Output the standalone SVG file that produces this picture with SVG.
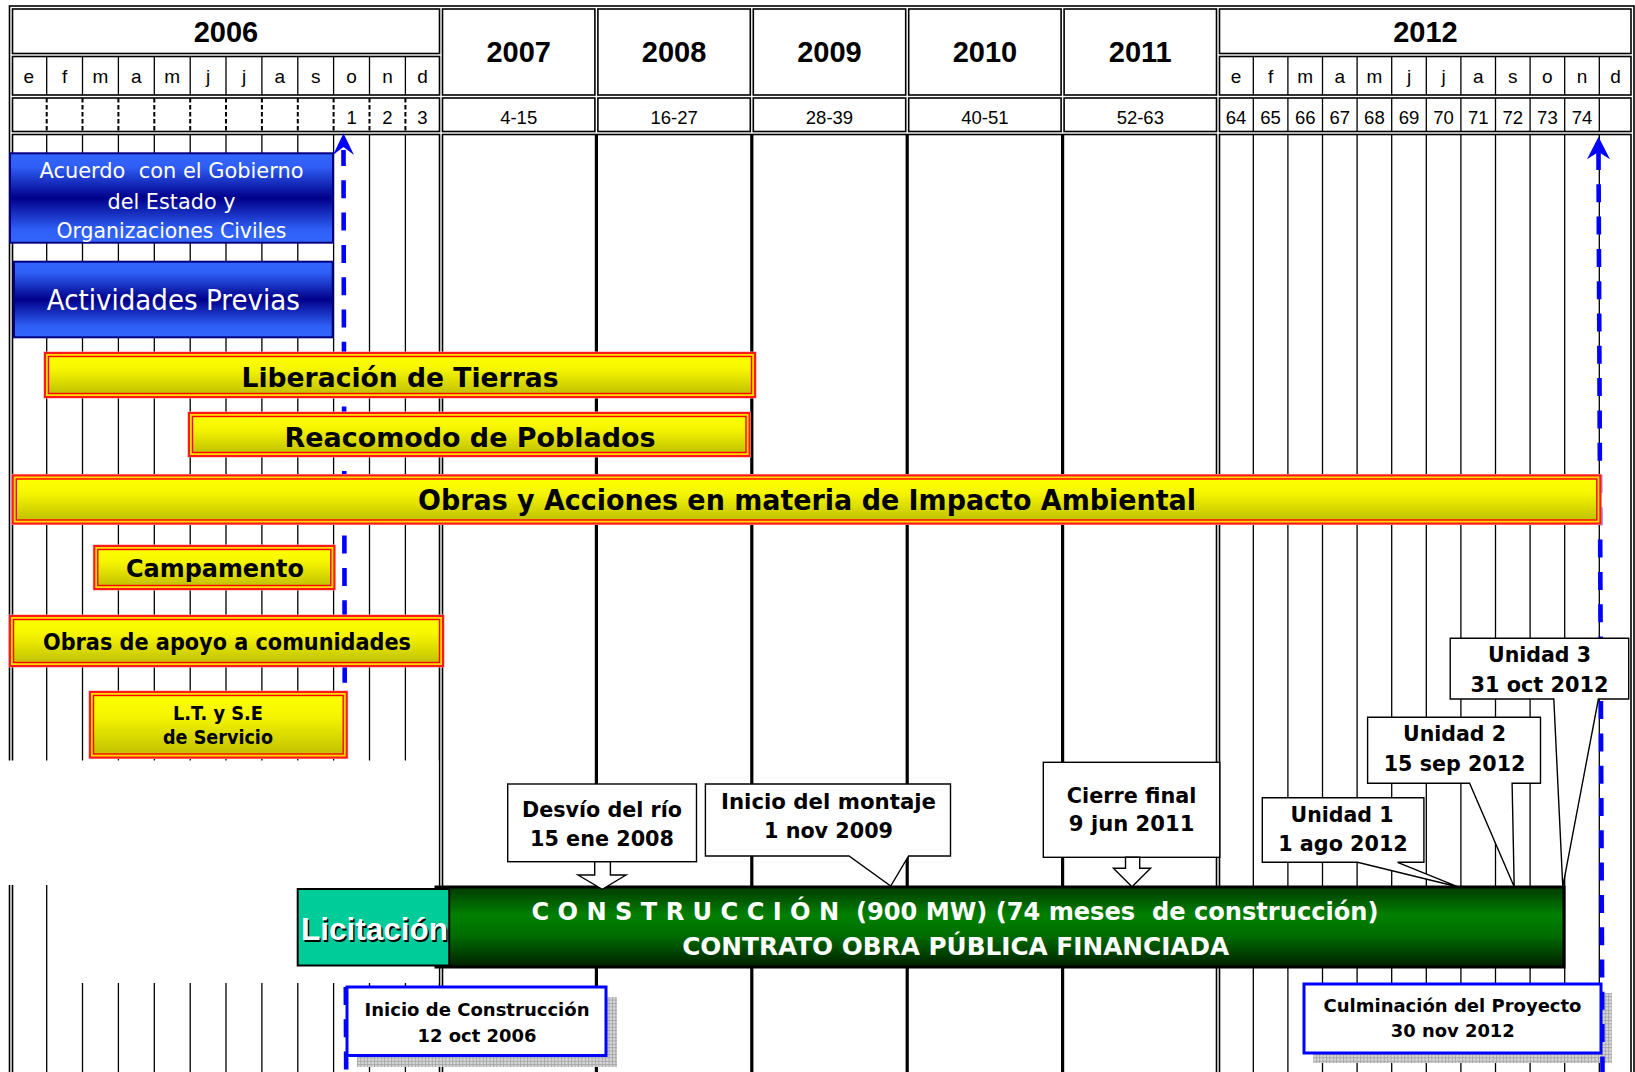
<svg xmlns="http://www.w3.org/2000/svg" width="1635" height="1072" viewBox="0 0 1635 1072">
<defs>
<linearGradient id="gY" x1="0" y1="0" x2="0" y2="1">
<stop offset="0" stop-color="#ffff00"/><stop offset="0.35" stop-color="#f5f500"/><stop offset="1" stop-color="#c2c200"/>
</linearGradient>
<linearGradient id="gB" x1="0" y1="0" x2="0" y2="1">
<stop offset="0" stop-color="#3366ff"/><stop offset="0.15" stop-color="#2f5ef5"/><stop offset="0.5" stop-color="#00008a"/><stop offset="0.85" stop-color="#2f5ef5"/><stop offset="1" stop-color="#3366ff"/>
</linearGradient>
<linearGradient id="gG" x1="0" y1="0" x2="0" y2="1">
<stop offset="0" stop-color="#003a00"/><stop offset="0.35" stop-color="#008000"/><stop offset="0.6" stop-color="#006e00"/><stop offset="1" stop-color="#002000"/>
</linearGradient>
<pattern id="pS" width="3.4" height="3.4" patternUnits="userSpaceOnUse">
<rect width="3.4" height="3.4" fill="#d6d6d6"/><path d="M0,0.5H3.4M0.5,0V3.4" stroke="#a0a0a0" stroke-width="0.8"/>
</pattern>
</defs>
<style>
.cell{fill:none;stroke:#000;stroke-width:1.6}
.mline{fill:none;stroke:#000;stroke-width:1.3}
.dline{fill:none;stroke:#000;stroke-width:2;stroke-dasharray:4.5 2.5}
.yline{fill:none;stroke:#000;stroke-width:3.2}
.h{font-family:"Liberation Sans",Arial,sans-serif;fill:#000;text-anchor:middle}
.yr{font-size:29px;font-weight:bold}
.mo{font-size:19px}
.nb{font-size:18.5px}
.t{font-family:"DejaVu Sans",Verdana,sans-serif;text-anchor:middle;font-weight:bold;fill:#000}
.w{fill:#fff}
.reg{font-weight:normal}
.pre{white-space:pre}
.halo{fill:none;stroke:#ff9c9c;stroke-width:1}
.ybo{fill:#ffdc00;stroke:#ff1a1a;stroke-width:2}
.ybi{fill:url(#gY);stroke:#ff0000;stroke-width:1.4}
.bb{fill:url(#gB);stroke:#000080;stroke-width:2}
.call{fill:#fff;stroke:#000;stroke-width:1.4}
.blue{fill:#fff;stroke:#0000ff;stroke-width:3}
.shadow{fill:url(#pS)}
.conn{fill:none;stroke:#0000ff;stroke-width:4.6;stroke-dasharray:18 14.3}
.head{fill:#0000ff}
</style>
<rect width="1635" height="1072" fill="#fff"/>

<g id="grid">
<rect class="cell" x="9.5" y="6" width="1624.5" height="1080"/>
<rect class="cell" x="12.5" y="9" width="427" height="44.5"/>
<rect class="cell" x="12.5" y="56.5" width="427" height="38.5"/>
<rect class="cell" x="12.5" y="98" width="427" height="33.5"/>
<rect class="cell" x="442.5" y="9" width="152.4" height="86"/>
<rect class="cell" x="442.5" y="98" width="152.4" height="33.5"/>
<rect class="cell" x="597.9" y="9" width="152.4" height="86"/>
<rect class="cell" x="597.9" y="98" width="152.4" height="33.5"/>
<rect class="cell" x="753.3" y="9" width="152.4" height="86"/>
<rect class="cell" x="753.3" y="98" width="152.4" height="33.5"/>
<rect class="cell" x="908.7" y="9" width="152.4" height="86"/>
<rect class="cell" x="908.7" y="98" width="152.4" height="33.5"/>
<rect class="cell" x="1064.1" y="9" width="152.4" height="86"/>
<rect class="cell" x="1064.1" y="98" width="152.4" height="33.5"/>
<rect class="cell" x="1219.5" y="9" width="411.5" height="44.5"/>
<rect class="cell" x="1219.5" y="56.5" width="411.5" height="38.5"/>
<rect class="cell" x="1219.5" y="98" width="411.5" height="33.5"/>
<rect class="cell" x="12.5" y="134.5" width="427" height="960"/>
<rect class="cell" x="442.5" y="134.5" width="774" height="960"/>
<rect class="cell" x="1219.5" y="134.5" width="411.5" height="960"/>
<path class="yline" d="M596.4,134.5V1072M751.8,134.5V1072M907.2,134.5V1072M1062.6,134.5V1072"/>
<path class="mline" d="M46.7,56.5V95M82.5,56.5V95M118.4,56.5V95M154.3,56.5V95M190.2,56.5V95M226,56.5V95M261.9,56.5V95M297.8,56.5V95M333.6,56.5V95M369.5,56.5V95M405.4,56.5V95M1253.3,56.5V95M1287.9,56.5V95M1322.5,56.5V95M1357.1,56.5V95M1391.7,56.5V95M1426.3,56.5V95M1460.9,56.5V95M1495.5,56.5V95M1530.1,56.5V95M1564.7,56.5V95M1599.3,56.5V95"/>
<path class="dline" d="M46.7,98V131.5M82.5,98V131.5M118.4,98V131.5M154.3,98V131.5M190.2,98V131.5M226,98V131.5M261.9,98V131.5M297.8,98V131.5M333.6,98V131.5M369.5,98V131.5M405.4,98V131.5"/>
<path class="mline" d="M1253.3,98V131.5M1287.9,98V131.5M1322.5,98V131.5M1357.1,98V131.5M1391.7,98V131.5M1426.3,98V131.5M1460.9,98V131.5M1495.5,98V131.5M1530.1,98V131.5M1564.7,98V131.5M1599.3,98V131.5"/>
<path class="mline" d="M46.7,134.5V1072M82.5,134.5V1072M118.4,134.5V1072M154.3,134.5V1072M190.2,134.5V1072M226,134.5V1072M261.9,134.5V1072M297.8,134.5V1072M333.6,134.5V1072M369.5,134.5V1072M405.4,134.5V1072M1253.3,134.5V1072M1287.9,134.5V1072M1322.5,134.5V1072M1357.1,134.5V1072M1391.7,134.5V1072M1426.3,134.5V1072M1460.9,134.5V1072M1495.5,134.5V1072M1530.1,134.5V1072M1564.7,134.5V1072M1599.3,134.5V1072"/>
<rect x="7" y="760.5" width="431.5" height="124.5" fill="#fff"/>
<rect x="48" y="884" width="390.5" height="99" fill="#fff"/>
</g>

<g id="header-text">
<text class="h yr" x="226" y="42">2006</text>
<text class="h yr" x="518.7" y="62">2007</text>
<text class="h yr" x="674.1" y="62">2008</text>
<text class="h yr" x="829.5" y="62">2009</text>
<text class="h yr" x="984.9" y="62">2010</text>
<text class="h yr" x="1140.3" y="62">2011</text>
<text class="h yr" x="1425.5" y="42">2012</text>
<g class="h mo">
<text x="28.7" y="83">e</text><text x="64.6" y="83">f</text><text x="100.5" y="83">m</text><text x="136.4" y="83">a</text><text x="172.2" y="83">m</text><text x="208.1" y="83">j</text><text x="244" y="83">j</text><text x="279.9" y="83">a</text><text x="315.7" y="83">s</text><text x="351.6" y="83">o</text><text x="387.5" y="83">n</text><text x="422.5" y="83">d</text>
<text x="1236" y="83">e</text><text x="1270.6" y="83">f</text><text x="1305.2" y="83">m</text><text x="1339.8" y="83">a</text><text x="1374.4" y="83">m</text><text x="1409" y="83">j</text><text x="1443.6" y="83">j</text><text x="1478.2" y="83">a</text><text x="1512.8" y="83">s</text><text x="1547.4" y="83">o</text><text x="1582" y="83">n</text><text x="1615.5" y="83">d</text>
</g>
<g class="h nb">
<text x="351.6" y="123.5">1</text><text x="387.5" y="123.5">2</text><text x="422.5" y="123.5">3</text>
<text x="518.7" y="123.5">4-15</text><text x="674.1" y="123.5">16-27</text><text x="829.5" y="123.5">28-39</text><text x="984.9" y="123.5">40-51</text><text x="1140.3" y="123.5">52-63</text>
<text x="1236" y="123.5">64</text><text x="1270.6" y="123.5">65</text><text x="1305.2" y="123.5">66</text><text x="1339.8" y="123.5">67</text><text x="1374.4" y="123.5">68</text><text x="1409" y="123.5">69</text><text x="1443.6" y="123.5">70</text><text x="1478.2" y="123.5">71</text><text x="1512.8" y="123.5">72</text><text x="1547.4" y="123.5">73</text><text x="1582" y="123.5">74</text>
</g>
</g>

<g id="shadows">
<rect class="shadow" x="357" y="997" width="260" height="70"/>
<rect class="shadow" x="1313" y="993" width="299" height="70"/>
</g>

<g id="connectors">
<path class="conn" d="M343.5,150L344.9,760" stroke-dashoffset="2"/>
<polygon class="head" points="343.5,133.3 354,155 343.5,147 333,155"/>
<path class="conn" d="M345.8,987L346.2,1072"/>
<path class="conn" d="M1598.5,152L1602.5,1072"/>
<polygon class="head" points="1598.5,136.7 1610,159.3 1598.5,152 1587,159.3"/>
</g>

<g id="acuerdo">
<rect class="bb" x="10" y="153.3" width="323" height="89.4" stroke-width="1.5"/>
<text class="t w reg pre" font-size="21" x="171.5" y="178.3" textLength="264" lengthAdjust="spacingAndGlyphs">Acuerdo  con el Gobierno</text>
<text class="t w reg" font-size="21" x="171.5" y="209" textLength="128" lengthAdjust="spacingAndGlyphs">del Estado y</text>
<text class="t w reg" font-size="21" x="171.5" y="238.3" textLength="230" lengthAdjust="spacingAndGlyphs">Organizaciones Civiles</text>
</g>
<g id="actividades">
<rect class="bb" x="14" y="261.7" width="318.7" height="75.6"/>
<text class="t w reg" font-size="28" x="173.3" y="310" textLength="253" lengthAdjust="spacingAndGlyphs">Actividades Previas</text>
</g>

<g id="liberacion">
<rect class="halo" x="44" y="352" width="712" height="46"/>
<rect class="ybo" x="45" y="353" width="710" height="44"/>
<rect class="ybi" x="48.5" y="356.5" width="703" height="37"/>
<text class="t" font-size="27" x="400" y="386.7" textLength="317" lengthAdjust="spacingAndGlyphs">Liberación de Tierras</text>
</g>
<g id="reacomodo">
<rect class="halo" x="188" y="412" width="562.5" height="45"/>
<rect class="ybo" x="189" y="413" width="560.5" height="43"/>
<rect class="ybi" x="192.5" y="416.5" width="553.5" height="36"/>
<text class="t" font-size="27" x="470" y="446.7" textLength="371" lengthAdjust="spacingAndGlyphs">Reacomodo de Poblados</text>
</g>
<g id="impacto">
<rect class="halo" x="11.8" y="474.5" width="1589.5" height="50"/>
<rect class="ybo" x="12.8" y="475.5" width="1587.5" height="48"/>
<rect class="ybi" x="16.3" y="479" width="1580.5" height="41"/>
<text class="t" font-size="28" x="807" y="510" textLength="778" lengthAdjust="spacingAndGlyphs">Obras y Acciones en materia de Impacto Ambiental</text>
</g>
<g id="campamento">
<rect class="halo" x="93.3" y="545" width="242" height="45"/>
<rect class="ybo" x="94.3" y="546" width="240" height="43"/>
<rect class="ybi" x="97.8" y="549.5" width="233" height="36"/>
<text class="t" font-size="25" x="215" y="577.3" textLength="178" lengthAdjust="spacingAndGlyphs">Campamento</text>
</g>
<g id="apoyo">
<rect class="halo" x="9" y="615" width="435" height="52"/>
<rect class="ybo" x="10" y="616" width="433" height="50"/>
<rect class="ybi" x="13.5" y="619.5" width="426" height="43"/>
<text class="t" font-size="23" x="227" y="650" textLength="368" lengthAdjust="spacingAndGlyphs">Obras de apoyo a comunidades</text>
</g>
<g id="lt-se">
<rect class="halo" x="89" y="691" width="258.7" height="67.5"/>
<rect class="ybo" x="90" y="692" width="256.7" height="65.5"/>
<rect class="ybi" x="93.5" y="695.5" width="249.7" height="58.5"/>
<text class="t" font-size="19" x="218" y="720" textLength="90" lengthAdjust="spacingAndGlyphs">L.T. y S.E</text>
<text class="t" font-size="19" x="218" y="744" textLength="110" lengthAdjust="spacingAndGlyphs">de Servicio</text>
</g>

<g id="construccion">
<rect x="436" y="887" width="1128" height="80" fill="url(#gG)" stroke="#000" stroke-width="3"/>
<text class="t w pre" font-size="24" x="955" y="919.5" textLength="847" lengthAdjust="spacingAndGlyphs">C O N S T R U C C I Ó N  (900 MW) (74 meses  de construcción)</text>
<text class="t w" font-size="24" x="955.7" y="955" textLength="547" lengthAdjust="spacingAndGlyphs">CONTRATO OBRA PÚBLICA FINANCIADA</text>
</g>
<g id="licitacion">
<rect x="297.7" y="889" width="151.5" height="76.5" fill="#00cc99" stroke="#000" stroke-width="2"/>
<text class="h" font-size="32" font-weight="bold" x="376" y="941.5" textLength="147" lengthAdjust="spacingAndGlyphs" fill="#000">Licitación</text>
<text class="h" font-size="32" font-weight="bold" x="374.5" y="940" textLength="147" lengthAdjust="spacingAndGlyphs" style="fill:#fff">Licitación</text>
</g>

<g id="desvio">
<rect class="call" x="507.7" y="784" width="188.8" height="77.7"/>
<polygon class="call" points="594.7,861.7 594.7,875 578,875 602.3,889.3 626,875 610.4,875 610.4,861.7"/>
<text class="t" font-size="22" x="602" y="816.7" textLength="160" lengthAdjust="spacingAndGlyphs">Desvío del río</text>
<text class="t" font-size="22" x="602" y="846" textLength="144" lengthAdjust="spacingAndGlyphs">15 ene 2008</text>
</g>
<g id="montaje">
<path class="call" d="M705.4,784H950.5V856H908.6L890.7,886L849,856H705.4Z"/>
<text class="t" font-size="22" x="828.5" y="809" textLength="215" lengthAdjust="spacingAndGlyphs">Inicio del montaje</text>
<text class="t" font-size="22" x="828.5" y="838.3" textLength="129" lengthAdjust="spacingAndGlyphs">1 nov 2009</text>
</g>
<g id="cierre">
<rect class="call" x="1043.3" y="762.3" width="176.5" height="95"/>
<polygon class="call" points="1125.5,857.3 1125.5,868.3 1113.4,868.3 1132,886.7 1150.6,868.3 1139.7,868.3 1139.7,857.3"/>
<text class="t" font-size="22" x="1131.6" y="803.3" textLength="129.6" lengthAdjust="spacingAndGlyphs">Cierre final</text>
<text class="t" font-size="22" x="1131.6" y="831" textLength="125.5" lengthAdjust="spacingAndGlyphs">9 jun 2011</text>
</g>
<g id="unidad1">
<path class="call" d="M1262.3,797.7H1423.9V862.3H1397.6L1457.5,886.7L1357.5,862.3H1262.3Z"/>
<text class="t" font-size="22" x="1342" y="821.7" textLength="103" lengthAdjust="spacingAndGlyphs">Unidad 1</text>
<text class="t" font-size="22" x="1343" y="850.5" textLength="129.5" lengthAdjust="spacingAndGlyphs">1 ago 2012</text>
</g>
<g id="unidad2">
<path class="call" d="M1367.6,717.3H1540.5V783.3H1512.1L1514.2,886.7L1469.6,783.3H1367.6Z"/>
<text class="t" font-size="22" x="1454.5" y="740.7" textLength="103" lengthAdjust="spacingAndGlyphs">Unidad 2</text>
<text class="t" font-size="22" x="1454.6" y="770.7" textLength="141.7" lengthAdjust="spacingAndGlyphs">15 sep 2012</text>
</g>
<g id="unidad3">
<path class="call" d="M1450.2,638.3H1628.7V699H1598.4L1562.8,886.7L1553.8,699H1450.2Z"/>
<text class="t" font-size="22" x="1539.5" y="661.7" textLength="103" lengthAdjust="spacingAndGlyphs">Unidad 3</text>
<text class="t" font-size="22" x="1539.5" y="691.7" textLength="138" lengthAdjust="spacingAndGlyphs">31 oct 2012</text>
</g>

<g id="inicio-construccion">
<rect class="blue" x="347" y="987" width="259" height="68.5"/>
<text class="t" font-size="18" x="477" y="1016" textLength="225" lengthAdjust="spacingAndGlyphs">Inicio de Construcción</text>
<text class="t" font-size="18" x="477" y="1042" textLength="119" lengthAdjust="spacingAndGlyphs">12 oct 2006</text>
</g>
<g id="culminacion">
<rect class="blue" x="1304" y="984" width="297" height="69"/>
<text class="t" font-size="18" x="1452.5" y="1011.5" textLength="258" lengthAdjust="spacingAndGlyphs">Culminación del Proyecto</text>
<text class="t" font-size="18" x="1452.8" y="1036.5" textLength="124" lengthAdjust="spacingAndGlyphs">30 nov 2012</text>
</g>
</svg>
